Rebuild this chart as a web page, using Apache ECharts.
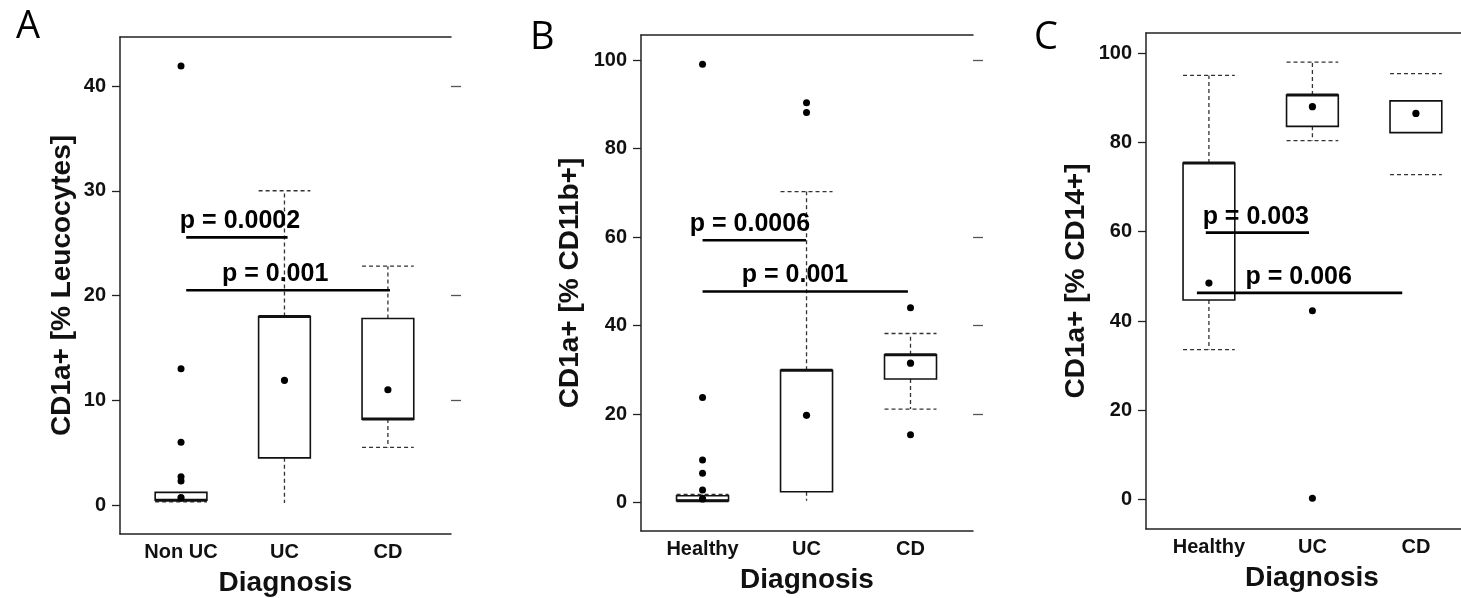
<!DOCTYPE html>
<html>
<head>
<meta charset="utf-8">
<script src="https://cdn.jsdelivr.net/npm/echarts@6/dist/echarts.min.js"></script>
<style>
html,body{margin:0;padding:0;background:#fff;}
#chart{width:1461px;height:598px;}
</style>
</head>
<body>
<div id="chart"></div>
<script>
// ---------- Panel A ----------
const catsA = ['Non UC', 'UC', 'CD'];
const q1A = [0.45, 4.5, 8.2];
const medA = [0.45, 18.0, 8.2];
const q3A = [1.2, 18.0, 17.8];
const whiskLoA = [0.3, 0.2, 5.5];
const whiskHiA = [1.2, 30.0, 22.8];
const capLoA = [0.3, null, 5.5];
const capHiA = [null, 30.0, 22.8];
const meanA = [0.7, 11.9, 11.0];
const outliersA = [[41.9, 13.0, 6.0, 2.7, 2.3], [], []];
const ticksA = [0, 10, 20, 30, 40];
const rightTicksA = [10, 20, 40];
const pTextA = ['p = 0.0002', 'p = 0.001'];
const pFromA = [1.05, 1.05];
const pToA = [2.03, 3.02];
const pYA = [25.55, 20.5];
const pLabelXA = [1.57, 1.91];
const yTitleA = 'CD1a+ [% Leucocytes]';

// ---------- Panel B ----------
const catsB = ['Healthy', 'UC', 'CD'];
const q1B = [0.4, 2.4, 27.9];
const medB = [0.4, 29.9, 33.4];
const q3B = [1.5, 29.9, 33.4];
const whiskLoB = [0.3, 0.4, 21.1];
const whiskHiB = [1.8, 70.3, 38.2];
const capLoB = [null, null, 21.1];
const capHiB = [1.8, 70.3, 38.2];
const meanB = [0.8, 19.7, 31.5];
const outliersB = [[99.1, 23.7, 9.6, 6.6, 2.8], [90.4, 88.2], [44.0, 15.3]];
const ticksB = [0, 20, 40, 60, 80, 100];
const rightTicksB = [20, 40, 60, 100];
const pTextB = ['p = 0.0006', 'p = 0.001'];
const pFromB = [1.0, 1.0];
const pToB = [1.995, 2.975];
const pYB = [59.3, 47.7];
const pLabelXB = [1.456, 1.889];
const yTitleB = 'CD1a+ [% CD11b+]';

// ---------- Panel C ----------
const catsC = ['Healthy', 'UC', 'CD'];
const q1C = [44.7, 83.6, 82.2];
const medC = [75.4, 90.6, null];
const q3C = [75.4, 90.6, 89.3];
const whiskLoC = [33.6, 80.4, null];
const whiskHiC = [95.0, 98.0, null];
const capLoC = [33.6, 80.4, 72.8];
const capHiC = [95.0, 98.0, 95.4];
const meanC = [48.5, 88.0, 86.5];
const outliersC = [[], [42.3, 0.3], []];
const ticksC = [0, 20, 40, 60, 80, 100];
const rightTicksC = [];
const pTextC = ['p = 0.003', 'p = 0.006'];
const pFromC = [0.97, 0.884];
const pToC = [1.967, 2.868];
const pYC = [59.8, 46.3];
const pLabelXC = [1.453, 1.868];
const yTitleC = 'CD1a+ [% CD14+]';

const xTitle = 'Diagnosis';
const panelLetters = ['A', 'B', 'C'];

// ---------- layout (not data) ----------
const FONT = '"Liberation Sans", Arial, sans-serif';
const layouts = [
  {grid: {left: 120, top: 37, width: 331, height: 497}, xmin: 0.41, xmax: 3.61, ymin: -2.77, ymax: 44.68, yNameGap: 44, letter: [16, 8]},
  {grid: {left: 641, top: 35, width: 332, height: 496}, xmin: 0.408, xmax: 3.601, ymin: -6.46, ymax: 105.7, yNameGap: 57, letter: [530, 19]},
  {grid: {left: 1146, top: 33, width: 332, height: 496}, xmin: 0.392, xmax: 3.60, ymin: -6.56, ymax: 104.5, yNameGap: 56, letter: [1034, 19]}
];

const panels = [
  {cats: catsA, q1: q1A, med: medA, q3: q3A, wlo: whiskLoA, whi: whiskHiA, clo: capLoA, chi: capHiA, mean: meanA, out: outliersA, ticks: ticksA, rticks: rightTicksA, pText: pTextA, pFrom: pFromA, pTo: pToA, pY: pYA, pLX: pLabelXA, yTitle: yTitleA},
  {cats: catsB, q1: q1B, med: medB, q3: q3B, wlo: whiskLoB, whi: whiskHiB, clo: capLoB, chi: capHiB, mean: meanB, out: outliersB, ticks: ticksB, rticks: rightTicksB, pText: pTextB, pFrom: pFromB, pTo: pToB, pY: pYB, pLX: pLabelXB, yTitle: yTitleB},
  {cats: catsC, q1: q1C, med: medC, q3: q3C, wlo: whiskLoC, whi: whiskHiC, clo: capLoC, chi: capHiC, mean: meanC, out: outliersC, ticks: ticksC, rticks: rightTicksC, pText: pTextC, pFrom: pFromC, pTo: pToC, pY: pYC, pLX: pLabelXC, yTitle: yTitleC}
];

const nz = v => (v === null || v === undefined) ? '-' : v;
const HW = 0.25;

function boxRender(params, api) {
  const x = api.value(0);
  const q1 = api.value(1), med = api.value(2), q3 = api.value(3);
  const wlo = api.value(4), whi = api.value(5), clo = api.value(6), chi = api.value(7), mean = api.value(8);
  const dash = {stroke: '#333', lineWidth: 1.3, lineDash: [4, 3], fill: null};
  const ch = [];
  const seg = (x1, y1, x2, y2, style) => {
    const a = api.coord([x1, y1]), b = api.coord([x2, y2]);
    ch.push({type: 'line', shape: {x1: a[0], y1: a[1], x2: b[0], y2: b[1]}, style: style});
  };
  if (!isNaN(wlo)) seg(x, q1, x, wlo, dash);
  if (!isNaN(whi)) seg(x, q3, x, whi, dash);
  if (!isNaN(clo)) seg(x - HW, clo, x + HW, clo, dash);
  if (!isNaN(chi)) seg(x - HW, chi, x + HW, chi, dash);
  const tl = api.coord([x - HW, q3]), br = api.coord([x + HW, q1]);
  ch.push({type: 'rect', shape: {x: tl[0], y: tl[1], width: br[0] - tl[0], height: br[1] - tl[1]},
           style: {fill: 'rgba(255,255,255,0)', stroke: '#111', lineWidth: 1.6}});
  if (!isNaN(med)) seg(x - HW, med, x + HW, med, {stroke: '#111', lineWidth: 3});
  if (!isNaN(mean)) {
    const m = api.coord([x, mean]);
    ch.push({type: 'circle', shape: {cx: m[0], cy: m[1], r: 3.6}, style: {fill: '#000'}});
  }
  return {type: 'group', children: ch};
}

function pRender(texts) {
  return function (params, api) {
    const a = api.coord([api.value(0), api.value(2)]);
    const b = api.coord([api.value(1), api.value(2)]);
    const t = api.coord([api.value(3), api.value(2)]);
    return {type: 'group', children: [
      {type: 'line', shape: {x1: a[0], y1: a[1], x2: b[0], y2: b[1]}, style: {stroke: '#000', lineWidth: 2.6}},
      {type: 'text', x: t[0], y: a[1] - 16, style: {text: texts[params.dataIndex], fill: '#000',
        font: 'bold 25px ' + FONT, align: 'center', verticalAlign: 'middle'}}
    ]};
  };
}

const grid = [], xAxis = [], yAxis = [], series = [], graphic = [];
panels.forEach((p, i) => {
  const L = layouts[i];
  grid.push(Object.assign({containLabel: false, outerBoundsMode: 'none'}, L.grid));
  const cats = p.cats;
  xAxis.push({
    type: 'value', gridIndex: i, min: L.xmin, max: L.xmax, position: 'bottom',
    axisLine: {show: true, onZero: false, lineStyle: {color: '#222', width: 1.5}},
    axisTick: {show: false}, splitLine: {show: false},
    axisLabel: {customValues: [1, 2, 3], formatter: v => cats[Math.round(v) - 1] || '',
      color: '#111', fontWeight: 'bold', fontSize: 20, fontFamily: FONT, margin: 8},
    name: xTitle, nameLocation: 'middle', nameGap: 35,
    nameTextStyle: {color: '#111', fontWeight: 'bold', fontSize: 28, fontFamily: FONT}
  });
  xAxis.push({
    type: 'value', gridIndex: i, min: L.xmin, max: L.xmax, position: 'top',
    axisLine: {show: true, onZero: false, lineStyle: {color: '#222', width: 1.5}},
    axisTick: {show: false}, axisLabel: {show: false}, splitLine: {show: false}
  });
  yAxis.push({
    type: 'value', gridIndex: i, min: L.ymin, max: L.ymax, position: 'left',
    axisLine: {show: true, onZero: false, lineStyle: {color: '#222', width: 1.5}},
    axisTick: {show: true, customValues: p.ticks, length: 8, lineStyle: {color: '#222', width: 1.3}},
    axisLabel: {customValues: p.ticks, color: '#111', fontWeight: 'bold', fontSize: 20, fontFamily: FONT, margin: 14},
    splitLine: {show: false},
    name: p.yTitle, nameLocation: 'middle', nameGap: L.yNameGap, nameRotate: 90,
    nameTextStyle: {color: '#111', fontWeight: 'bold', fontSize: 28, fontFamily: FONT}
  });
  yAxis.push({
    type: 'value', gridIndex: i, min: L.ymin, max: L.ymax, position: 'right',
    axisLine: {show: false},
    axisTick: {show: p.rticks.length > 0, customValues: p.rticks.length ? p.rticks : [0], length: 10, lineStyle: {color: '#555', width: 1.3}},
    axisLabel: {show: false}, splitLine: {show: false}
  });
  const boxData = cats.map((c, k) => [k + 1, p.q1[k], nz(p.med[k]), p.q3[k], nz(p.wlo[k]), nz(p.whi[k]), nz(p.clo[k]), nz(p.chi[k]), p.mean[k]]);
  series.push({type: 'custom', xAxisIndex: 2 * i, yAxisIndex: 2 * i, renderItem: boxRender, data: boxData, z: 2});
  const outData = [];
  p.out.forEach((arr, k) => arr.forEach(v => outData.push([k + 1, v])));
  series.push({type: 'scatter', xAxisIndex: 2 * i, yAxisIndex: 2 * i, data: outData, symbol: 'circle', symbolSize: 7,
    itemStyle: {color: '#000', opacity: 1}, z: 3});
  const pData = p.pText.map((t, k) => [p.pFrom[k], p.pTo[k], p.pY[k], p.pLX[k]]);
  series.push({type: 'custom', xAxisIndex: 2 * i, yAxisIndex: 2 * i, renderItem: pRender(p.pText), data: pData, z: 5});
  graphic.push({type: 'text', left: L.letter[0], top: L.letter[1],
    style: {text: panelLetters[i], fill: '#000', font: '38px "Open Sans", "Liberation Sans", sans-serif'}});
});

const chart = echarts.init(document.getElementById('chart'), null, {renderer: 'canvas'});
chart.setOption({animation: false, backgroundColor: '#fff', grid, xAxis, yAxis, series, graphic});
</script>
</body>
</html>
